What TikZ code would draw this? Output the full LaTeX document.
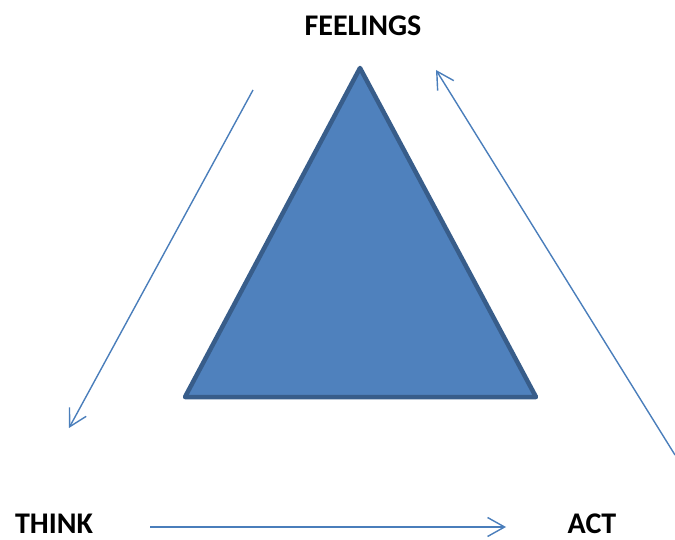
\documentclass[tikz,border=0pt]{standalone}
\usepackage{fontspec}
\setmainfont{Carlito}
\usepackage{xcolor}
\usepackage{tikz}
\usetikzlibrary{arrows.meta}

\definecolor{triblue}{HTML}{4F81BD}
\definecolor{triedge}{HTML}{385D8A}
\definecolor{arrblue}{HTML}{4A7EBB}

\begin{document}
\begin{tikzpicture}[x=1pt,y=-1pt]
\tikzstyle{word} = [font=\fontsize{30}{34}\selectfont\bfseries, inner sep=0pt, anchor=base]
\tikzstyle{cycle} = [draw=arrblue, line width=1.4pt, -{Straight Barb[length=17pt,width=19pt]}]
%
\useasboundingbox (0,0) rectangle (675,540);

	\fill[triblue, draw=triedge, line width=4.5pt, line join=round]
		(360,68) -- (185,397) -- (536,397) -- cycle;

	\node[word] (feel) at (363,36) {FEELINGS};
	\node[word] (think) at (54,533) {THINK};
	\node[word] (act) at (592,533) {ACT};

	\coordinate (l1) at (253,90);
	\coordinate (l2) at (69,428);
	\coordinate (b1) at (150,527);
	\coordinate (b2) at (506,527);
	\coordinate (r1) at (675,455);
	\coordinate (r2) at (436,70);

	\draw[cycle] (l1) -- (l2);
	\draw[cycle] (b1) -- (b2);
	\draw[cycle] (r1) -- (r2);
\end{tikzpicture}
\end{document}
